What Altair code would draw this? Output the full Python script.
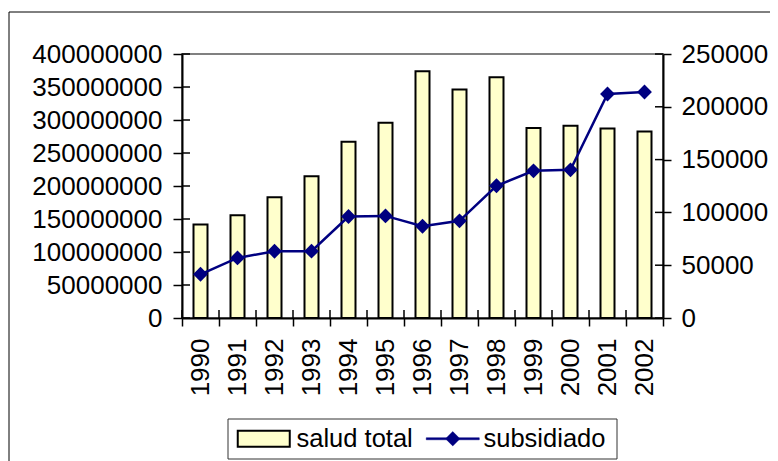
import altair as alt
import pandas as pd

years = ["1990", "1991", "1992", "1993", "1994", "1995", "1996",
         "1997", "1998", "1999", "2000", "2001", "2002"]
salud_total = [141600000, 155800000, 183100000, 214900000, 267000000, 295800000,
               373700000, 346400000, 364600000, 287700000, 291300000, 287200000,
               282700000]
subsidiado = [41400, 56900, 63200, 63300, 96100, 96700, 86900, 92000, 125200,
              139400, 140300, 212100, 214000]
series_names = ["salud total", "subsidiado"]
left_ticks = [0, 50000000, 100000000, 150000000, 200000000, 250000000,
              300000000, 350000000, 400000000]
right_ticks = [0, 50000, 100000, 150000, 200000, 250000]

df = pd.DataFrame({"year": years, "salud": salud_total, "subs": subsidiado})
df_lt = pd.DataFrame({"v": left_ticks})
df_rt = pd.DataFrame({"v": right_ticks})

FONT = "Liberation Sans"
FS = 26
LFS = 25.5
LEFT_DOMAIN = [0, 400000000]
RIGHT_DOMAIN = [0, 250000]

rect_path = "M-2.6,-0.8H2.6V0.8H-2.6Z"
line_path = "M-2.65,-0.1H2.65V0.1H-2.65Z M-0.72,0L0,-0.72L0.72,0L0,0.72Z"

axis_common = dict(title=None, labelFontSize=FS, labelFont=FONT, labelColor="black",
                   domainColor="black", domainWidth=2, tickColor="black",
                   tickWidth=1.5, grid=False, zindex=1)

x_enc = alt.X(
    "year:N", sort=years,
    scale=alt.Scale(paddingInner=0, paddingOuter=0),
    axis=alt.Axis(labelAngle=270, labelAlign="right", labelBaseline="middle",
                  tickSize=8, tickBand="extent", labelPadding=12, **axis_common),
)

# chart border and legend box (decorations)
frame = alt.Chart(alt.Data(values=[{}])).mark_rect(
    fill="transparent", stroke="black", strokeWidth=1
).encode(x=alt.value(-173), x2=alt.value(700), y=alt.value(-42), y2=alt.value(500))

legend_box = alt.Chart(alt.Data(values=[{}])).mark_rect(
    fill="white", stroke="#333333", strokeWidth=1
).encode(x=alt.value(46), x2=alt.value(435), y=alt.value(365), y2=alt.value(405))

bars = alt.Chart(df).transform_calculate(s=f"'{series_names[0]}'").mark_bar(
    size=14, stroke="black", strokeWidth=2
).encode(
    x=x_enc,
    y=alt.Y("salud:Q", scale=alt.Scale(domain=LEFT_DOMAIN),
            axis=alt.Axis(values=left_ticks, format="d", tickSize=9,
                          labelPadding=11, **axis_common)),
    fill=alt.Fill(
        "s:N",
        scale=alt.Scale(domain=[series_names[0]], range=["#FFFFCC"]),
        legend=alt.Legend(title=None, orient="none", legendX=69, legendY=372,
                          padding=0, labelFontSize=LFS, labelFont=FONT,
                          labelColor="black", symbolSize=400, symbolOffset=0,
                          labelOffset=20, symbolType=rect_path,
                          symbolStrokeColor="black", symbolStrokeWidth=2,
                          symbolFillColor="#FFFFCC"),
    ),
)

line = alt.Chart(df).transform_calculate(s=f"'{series_names[1]}'").mark_line(
    strokeWidth=2.5,
    point=alt.OverlayMarkDef(shape="diamond", size=220, filled=True),
).encode(
    x=x_enc,
    y=alt.Y("subs:Q", scale=alt.Scale(domain=RIGHT_DOMAIN),
            axis=alt.Axis(orient="right", values=right_ticks, format="d",
                          tickSize=8, labelPadding=10, **axis_common)),
    color=alt.Color(
        "s:N",
        scale=alt.Scale(domain=[series_names[1]], range=["#000080"]),
        legend=alt.Legend(title=None, orient="none", legendX=258, legendY=372,
                          padding=0, labelFontSize=LFS, labelFont=FONT,
                          labelColor="black", symbolSize=400, symbolOffset=0,
                          labelOffset=18, symbolType=line_path,
                          symbolStrokeColor="#000080", symbolStrokeWidth=0.5,
                          symbolFillColor="#000080"),
    ),
)

# inner halves of the crossing tick marks
x_inner = alt.Chart(df).mark_rule(color="black", strokeWidth=1.5).encode(
    x=alt.X("year:N", sort=years, bandPosition=0),
    y=alt.value(256), y2=alt.value(264),
)
left_inner = alt.Chart(df_lt).mark_rule(color="black", strokeWidth=1.5).encode(
    y=alt.Y("v:Q", scale=alt.Scale(domain=LEFT_DOMAIN), axis=None),
    x=alt.value(0), x2=alt.value(8),
)
right_inner = alt.Chart(df_rt).mark_rule(color="black", strokeWidth=1.5).encode(
    y=alt.Y("v:Q", scale=alt.Scale(domain=RIGHT_DOMAIN), axis=None),
    x=alt.value(473), x2=alt.value(481),
)

chart = (
    alt.layer(frame, legend_box, bars, line, x_inner, left_inner, right_inner)
    .resolve_scale(y="independent")
    .properties(
        width=481, height=264,
        autosize=alt.AutoSizeParams(type="none"),
        padding={"left": 174, "top": 46, "right": 107, "bottom": 143},
        background="white",
    )
    .configure_view(stroke="#808080", strokeWidth=2)
)

chart.save("out.html", embed_options={"renderer": "svg", "actions": False})
